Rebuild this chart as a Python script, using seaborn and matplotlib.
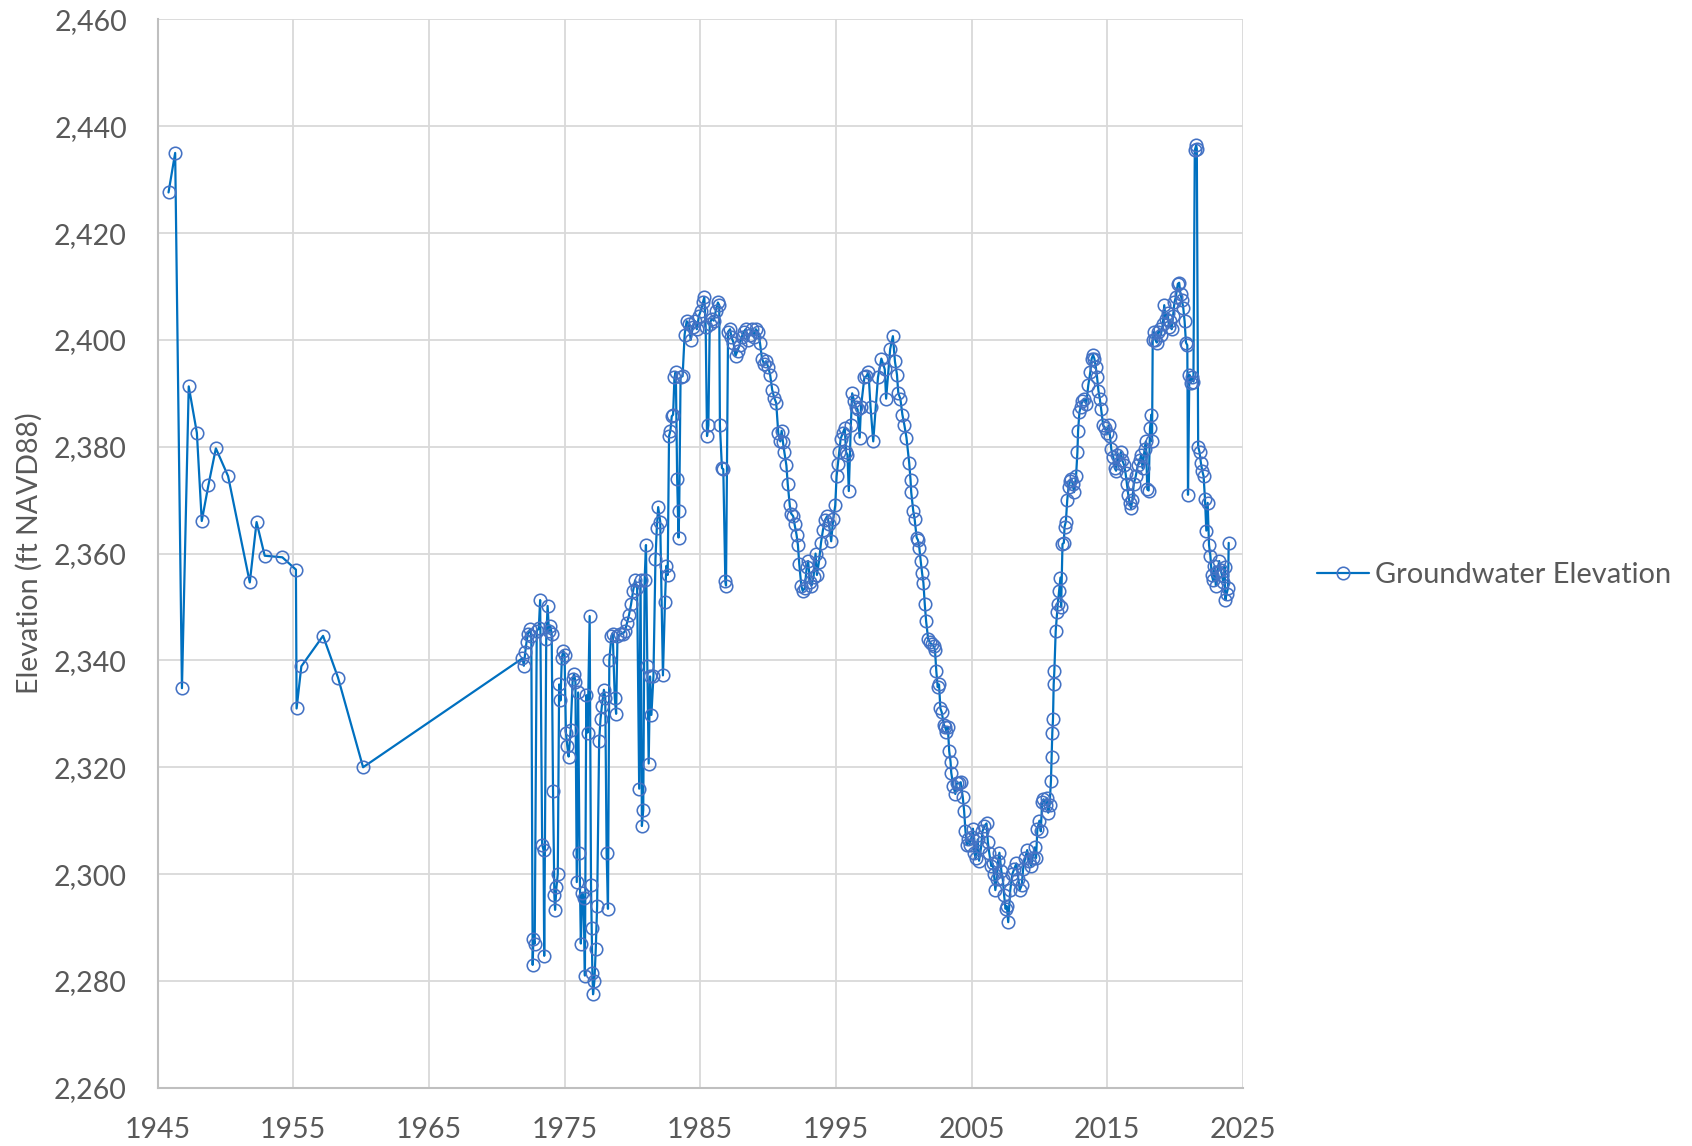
import matplotlib
matplotlib.use("Agg")
import matplotlib.pyplot as plt
import seaborn as sns
import pandas as pd
from matplotlib.ticker import FuncFormatter, MultipleLocator

# ---------------- data ----------------
years_early = [1945.81, 1946.3, 1946.8, 1947.3, 1947.9, 1948.26, 1948.75, 1949.3, 1950.2,
               1951.8, 1952.3, 1952.9, 1954.2, 1955.2, 1955.25, 1955.6, 1957.2, 1958.3, 1960.15]
elev_early = [2427.6, 2435.0, 2334.8, 2391.3, 2382.6, 2366.1, 2372.8, 2379.7, 2374.5,
              2354.6, 2365.9, 2359.6, 2359.3, 2357.0, 2331.0, 2338.9, 2344.6, 2336.8, 2320.0]

years_70s = [1971.9, 1972.0, 1972.1, 1972.2, 1972.3, 1972.45, 1972.55, 1972.65, 1972.7, 1972.8,
             1972.95, 1973.1, 1973.2, 1973.35, 1973.45, 1973.5, 1973.65, 1973.75, 1973.85, 1973.95,
             1974.05, 1974.15, 1974.25, 1974.3, 1974.4, 1974.5, 1974.6, 1974.7, 1974.8, 1974.9,
             1975.0, 1975.1, 1975.2, 1975.3, 1975.45, 1975.6, 1975.7, 1975.8, 1975.9, 1976.0,
             1976.1, 1976.2, 1976.3, 1976.4, 1976.5, 1976.6, 1976.7, 1976.85, 1976.95, 1977.0,
             1977.05, 1977.1, 1977.2, 1977.3, 1977.4, 1977.55, 1977.65, 1977.75, 1977.9, 1978.0,
             1978.1, 1978.2, 1978.3, 1978.45, 1978.55, 1978.7, 1978.8, 1978.9, 1979.1, 1979.3,
             1979.45, 1979.6, 1979.75, 1979.9, 1980.05, 1980.2, 1980.35, 1980.5, 1980.6, 1980.7,
             1980.8, 1980.9, 1981.0, 1981.1, 1981.2, 1981.3, 1981.4, 1981.55, 1981.7, 1981.8,
             1981.9, 1982.05, 1982.25, 1982.4, 1982.5, 1982.6, 1982.7, 1982.8, 1982.9, 1983.0,
             1983.1, 1983.2, 1983.3, 1983.4, 1983.45, 1983.55, 1983.7]
elev_70s = [2340.4, 2339.0, 2341.5, 2343.5, 2345.0, 2345.8, 2344.5, 2283.0, 2287.8, 2287.0,
            2345.5, 2346.0, 2351.3, 2305.5, 2304.5, 2284.7, 2344.0, 2350.2, 2345.5, 2346.5,
            2345.0, 2315.5, 2296.0, 2293.3, 2297.5, 2300.0, 2335.5, 2332.5, 2340.5, 2341.8,
            2341.0, 2326.5, 2324.0, 2322.0, 2327.0, 2336.5, 2337.5, 2336.0, 2298.5, 2334.0,
            2304.0, 2287.0, 2296.5, 2295.5, 2281.0, 2333.5, 2326.5, 2348.3, 2298.0, 2290.0,
            2281.5, 2277.5, 2280.0, 2286.0, 2294.0, 2325.0, 2329.0, 2331.5, 2334.5, 2333.0,
            2304.0, 2293.5, 2340.0, 2344.5, 2345.0, 2333.0, 2330.0, 2344.5, 2345.0, 2345.0,
            2345.5, 2347.0, 2348.5, 2350.5, 2353.0, 2355.0, 2353.5, 2316.0, 2355.0, 2309.0,
            2312.0, 2355.0, 2361.6, 2339.0, 2320.7, 2337.0, 2329.8, 2337.0, 2359.0, 2364.8,
            2368.7, 2366.0, 2337.2, 2351.0, 2357.7, 2356.0, 2382.0, 2383.0, 2385.7, 2386.0,
            2393.0, 2394.0, 2374.0, 2363.0, 2368.0, 2393.0, 2393.2]

years_80s = [1983.85, 1984.0, 1984.15, 1984.3, 1984.45, 1984.6, 1984.75, 1984.9, 1985.05, 1985.2,
             1985.3, 1985.4, 1985.5, 1985.6, 1985.7, 1985.85, 1986.0, 1986.15, 1986.3, 1986.4,
             1986.45, 1986.6, 1986.7, 1986.85, 1986.9, 1987.05, 1987.2, 1987.3, 1987.45, 1987.6,
             1987.75, 1987.9, 1988.05, 1988.2, 1988.35, 1988.5, 1988.65, 1988.8, 1988.95, 1989.1,
             1989.25, 1989.4, 1989.55, 1989.7, 1989.85, 1990.0, 1990.15, 1990.3, 1990.45, 1990.6,
             1990.75, 1990.9, 1991.0, 1991.1, 1991.2, 1991.35, 1991.45, 1991.6, 1991.7, 1991.85,
             1991.95, 1992.1, 1992.2, 1992.3, 1992.45, 1992.55, 1992.7, 1992.85, 1992.95, 1993.1,
             1993.2, 1993.35, 1993.5]
elev_80s = [2401.0, 2403.5, 2403.0, 2400.0, 2402.5, 2403.5, 2402.0, 2404.5, 2405.5, 2407.0,
            2408.0, 2402.5, 2382.0, 2384.0, 2403.0, 2404.0, 2403.6, 2405.5, 2407.0, 2406.5,
            2384.0, 2376.0, 2375.8, 2354.8, 2354.0, 2401.5, 2402.0, 2400.5, 2399.5, 2397.0,
            2398.0, 2399.0, 2400.5, 2401.5, 2402.0, 2400.0, 2401.0, 2402.0, 2400.5, 2402.0,
            2401.5, 2399.5, 2396.5, 2395.5, 2396.0, 2395.0, 2393.5, 2390.7, 2389.2, 2388.2,
            2382.6, 2381.0, 2383.0, 2380.8, 2379.0, 2376.5, 2373.0, 2369.0, 2367.5, 2367.0,
            2365.5, 2363.5, 2361.6, 2358.0, 2354.0, 2353.0, 2353.5, 2357.5, 2358.6, 2354.6,
            2354.0, 2355.6, 2360.0]

years_90s = [1993.6, 1993.75, 1993.9, 1994.05, 1994.2, 1994.35, 1994.5, 1994.65, 1994.8, 1994.95,
             1995.05, 1995.15, 1995.25, 1995.35, 1995.5, 1995.65, 1995.75, 1995.85, 1995.95, 1996.1,
             1996.2, 1996.35, 1996.45, 1996.6, 1996.75, 1996.85, 1997.1, 1997.25, 1997.4, 1997.55,
             1997.75, 1998.1, 1998.35, 1998.6, 1998.7, 1999.0, 1999.2, 1999.35, 1999.5, 1999.6,
             1999.75, 1999.9, 2000.05, 2000.2, 2000.4, 2000.5, 2000.55, 2000.7, 2000.8, 2000.95,
             2001.05, 2001.15, 2001.25, 2001.35, 2001.45, 2001.55, 2001.65, 2001.8, 2001.9]
elev_90s = [2356.0, 2358.5, 2362.0, 2364.5, 2366.3, 2367.0, 2365.5, 2362.3, 2366.5, 2369.0,
            2374.5, 2376.8, 2379.0, 2381.5, 2382.5, 2383.5, 2379.0, 2378.5, 2371.7, 2384.0,
            2390.0, 2388.5, 2387.5, 2387.0, 2381.7, 2387.5, 2393.0, 2393.2, 2394.0, 2387.5,
            2381.0, 2393.0, 2396.5, 2394.5, 2389.0, 2398.3, 2400.7, 2396.0, 2393.5, 2390.0,
            2389.0, 2386.0, 2384.0, 2381.7, 2377.0, 2373.8, 2371.5, 2368.0, 2366.5, 2363.0,
            2362.5, 2361.0, 2358.6, 2356.4, 2354.5, 2350.5, 2347.3, 2344.0, 2343.5]

years_00s = [2002.05, 2002.2, 2002.3, 2002.4, 2002.5, 2002.6, 2002.7, 2002.8, 2002.95, 2003.05,
             2003.15, 2003.25, 2003.35, 2003.45, 2003.5, 2003.65, 2003.8, 2003.9, 2004.05, 2004.2,
             2004.35, 2004.45, 2004.55, 2004.65, 2004.75, 2004.85, 2005.0, 2005.1, 2005.2, 2005.3,
             2005.45, 2005.55, 2005.7, 2005.8, 2005.95, 2006.1, 2006.2, 2006.3, 2006.45, 2006.55,
             2006.65, 2006.75, 2006.85, 2006.95, 2007.05, 2007.2, 2007.3, 2007.4, 2007.5, 2007.6,
             2007.7, 2007.85, 2008.0, 2008.15, 2008.3, 2008.45, 2008.55, 2008.7, 2008.8, 2008.95,
             2009.1, 2009.25, 2009.4, 2009.5, 2009.65, 2009.75, 2009.85, 2010.0, 2010.1, 2010.2,
             2010.3, 2010.45, 2010.55, 2010.65, 2010.75, 2010.85, 2010.9, 2010.95, 2011.0, 2011.05,
             2011.1, 2011.2, 2011.3, 2011.35, 2011.45, 2011.55, 2011.6, 2011.7, 2011.8, 2011.85,
             2011.95]
elev_00s = [2343.0, 2342.7, 2342.0, 2338.0, 2335.0, 2335.5, 2331.0, 2330.3, 2328.0, 2327.5,
            2326.6, 2327.5, 2323.0, 2321.0, 2319.0, 2316.5, 2315.0, 2317.0, 2317.0, 2317.2,
            2314.4, 2311.8, 2308.0, 2305.5, 2306.5, 2305.5, 2307.0, 2308.5, 2304.0, 2303.0,
            2306.5, 2302.5, 2305.0, 2308.0, 2309.0, 2309.5, 2306.0, 2304.0, 2301.5, 2302.0,
            2300.0, 2297.0, 2299.0, 2302.5, 2304.0, 2300.5, 2299.0, 2296.0, 2293.5, 2294.0,
            2291.0, 2297.0, 2300.0, 2301.0, 2302.0, 2299.0, 2297.0, 2298.0, 2301.0, 2303.0,
            2304.5, 2302.5, 2301.5, 2303.0, 2305.0, 2303.0, 2308.5, 2310.0, 2308.0, 2313.5,
            2314.0, 2313.0, 2314.2, 2311.5, 2313.0, 2317.5, 2322.0, 2326.5, 2329.0, 2335.5,
            2338.0, 2345.5, 2349.0, 2350.5, 2353.0, 2355.5, 2350.0, 2361.8, 2362.0, 2365.0,
            2366.0]

years_10s = [2012.05, 2012.15, 2012.25, 2012.35, 2012.45, 2012.55, 2012.7, 2012.8, 2012.85, 2012.95,
             2013.05, 2013.15, 2013.3, 2013.45, 2013.6, 2013.75, 2013.85, 2013.95, 2014.05, 2014.15,
             2014.25, 2014.35, 2014.45, 2014.55, 2014.7, 2014.85, 2015.0, 2015.1, 2015.2, 2015.3,
             2015.45, 2015.55, 2015.65, 2015.75, 2015.85, 2016.0, 2016.1, 2016.25, 2016.35, 2016.45,
             2016.55, 2016.65, 2016.75, 2016.85, 2016.95, 2017.1, 2017.25, 2017.4, 2017.5, 2017.6,
             2017.75, 2017.85, 2017.95, 2018.05, 2018.15, 2018.25, 2018.3, 2018.35, 2018.45, 2018.55,
             2018.65, 2018.75, 2018.85, 2018.95, 2019.1, 2019.2, 2019.3, 2019.45, 2019.55, 2019.65,
             2019.75, 2019.85, 2019.95]
elev_10s = [2370.0, 2372.5, 2373.5, 2374.0, 2373.0, 2371.5, 2374.5, 2379.0, 2383.0, 2386.5,
            2387.5, 2388.5, 2389.0, 2388.0, 2391.5, 2394.0, 2396.5, 2397.2, 2396.5, 2395.0,
            2393.0, 2390.5, 2389.0, 2387.0, 2384.0, 2383.5, 2382.5, 2384.0, 2382.0, 2379.5,
            2378.0, 2376.0, 2375.5, 2378.5, 2377.0, 2379.0, 2377.5, 2376.5, 2375.0, 2373.0,
            2371.0, 2369.5, 2368.5, 2370.0, 2373.0, 2374.5, 2376.5, 2377.5, 2378.5, 2376.0,
            2379.5, 2381.0, 2372.0, 2371.8, 2383.5, 2386.0, 2381.0, 2400.0, 2401.5, 2400.0,
            2399.5, 2401.5, 2402.0, 2401.0, 2403.0, 2406.5, 2404.0, 2405.0, 2402.5, 2403.5,
            2402.0, 2404.5, 2407.0]

years_20s = [2020.05, 2020.2, 2020.3, 2020.4, 2020.5, 2020.6, 2020.7, 2020.8, 2020.9, 2020.95,
             2021.05, 2021.15, 2021.25, 2021.35, 2021.45, 2021.55, 2021.6, 2021.7, 2021.8, 2021.9,
             2022.0, 2022.1, 2022.2, 2022.3, 2022.4, 2022.5, 2022.6, 2022.7, 2022.8, 2022.9,
             2023.0, 2023.1, 2023.25, 2023.35, 2023.45, 2023.55, 2023.65, 2023.7, 2023.8, 2023.9,
             2023.95]
elev_20s = [2408.0, 2410.5, 2410.7, 2408.5, 2407.5, 2406.0, 2403.5, 2399.5, 2399.0, 2371.0,
            2393.5, 2392.0, 2393.0, 2392.2, 2435.5, 2436.4, 2435.8, 2380.0, 2379.0, 2377.0,
            2375.5, 2374.5, 2370.3, 2364.3, 2369.5, 2361.6, 2359.6, 2356.0, 2355.0, 2357.6,
            2354.0, 2356.5, 2358.6, 2357.0, 2356.0, 2354.6, 2357.5, 2351.3, 2352.5, 2353.5,
            2362.0]

series_name = "Groundwater Elevation"
y_axis_title = "Elevation (ft NAVD88)"
x_tick_values = [1945, 1955, 1965, 1975, 1985, 1995, 2005, 2015, 2025]
y_tick_values = [2260, 2280, 2300, 2320, 2340, 2360, 2380, 2400, 2420, 2440, 2460]

# ---------------- assemble ----------------
years = (years_early + years_70s + years_80s + years_90s + years_00s + years_10s + years_20s)
elev = (elev_early + elev_70s + elev_80s + elev_90s + elev_00s + elev_10s + elev_20s)
df = pd.DataFrame({"Year": years, "Elevation": elev})

# ---------------- styling ----------------
sns.set_theme(style="white")
plt.rcParams["font.family"] = ["Lato", "DejaVu Sans"]

TXT = "#595959"
GRID = "#D9D9D9"
AXIS = "#BFBFBF"
LINE = "#0070C0"
MARK = "#4472C4"

fig = plt.figure(figsize=(16.92, 11.46), dpi=100)
ax = fig.add_axes([0.0931, 0.0508, 0.6415, 0.9323])

sns.lineplot(data=df, x="Year", y="Elevation", ax=ax, sort=False, estimator=None,
             color=LINE, linewidth=1.6, marker="o", markersize=9,
             markerfacecolor="none", markeredgecolor=MARK, markeredgewidth=1.15,
             label=series_name, legend=False, zorder=3)

ax.set_xlim(1945, 2025)
ax.set_ylim(2260, 2460)
ax.set_xticks(x_tick_values)
ax.set_yticks(y_tick_values)
ax.xaxis.set_minor_locator(MultipleLocator(2))
ax.yaxis.set_minor_locator(MultipleLocator(4))
ax.yaxis.set_major_formatter(FuncFormatter(lambda v, p: f"{v:,.0f}"))
ax.xaxis.set_major_formatter(FuncFormatter(lambda v, p: f"{v:.0f}"))

ax.grid(True, which="major", color=GRID, linewidth=1.3, zorder=0)
ax.set_axisbelow(True)
for s in ["top", "right"]:
    ax.spines[s].set_visible(False)
for s in ["left", "bottom"]:
    ax.spines[s].set_color(AXIS)
    ax.spines[s].set_linewidth(1.5)

ax.tick_params(axis="both", which="both", direction="out", color=AXIS, width=1.0,
               labelcolor=TXT, labelsize=20.5)
ax.tick_params(axis="both", which="major", length=6)
ax.tick_params(axis="both", which="minor", length=6)
ax.tick_params(axis="y", which="major", pad=16)
ax.tick_params(axis="x", which="major", pad=15)

ax.set_xlabel("")
ax.set_ylabel(y_axis_title, color=TXT, fontsize=20.5, labelpad=8)

handles, labels = ax.get_legend_handles_labels()
fig.legend(handles, labels, loc="center left", bbox_to_anchor=(0.763, 0.498),
           frameon=False, fontsize=20.9, labelcolor=TXT, handlelength=1.8,
           handletextpad=0.19)

fig.savefig("out.png", dpi=100)
